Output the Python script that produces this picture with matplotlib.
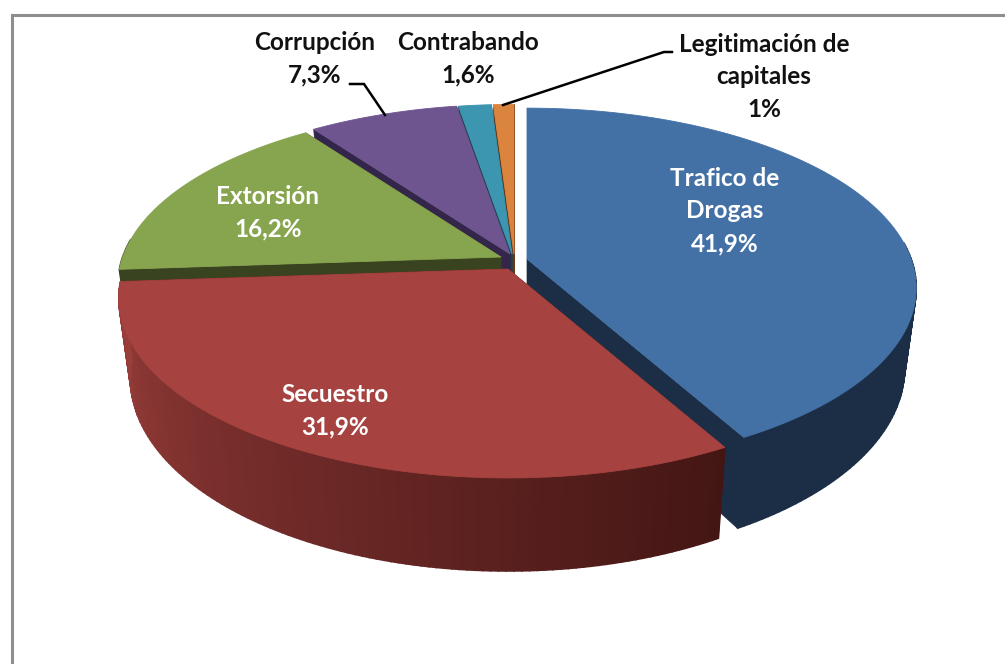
import numpy as np
import matplotlib
matplotlib.use("Agg")
import matplotlib.pyplot as plt
from matplotlib.colors import to_rgb

names = ["Trafico de\nDrogas", "Secuestro", "Extorsión", "Corrupción", "Contrabando", "Legitimación de\ncapitales"]
values = [41.9, 31.9, 16.2, 7.3, 1.6, 1.0]
value_labels = ["41,9%", "31,9%", "16,2%", "7,3%", "1,6%", "1%"]

top_colors = ["#4371a6", "#a64340", "#87a44e", "#6f5590", "#3c96b0", "#db843d"]
wall_start = ["#1b2e45", "#431614", "#3a431f", "#33264a", "#1b4450", "#65381a"]
wall_end = ["#1b2e45", "#9a3e3b", "#3a431f", "#33264a", "#1b4450", "#65381a"]

# apex of every slice (pixels), the pie is pulled apart by hand
apex_x = [527, 508, 501, 510, 512, 514]
apex_y = [259, 269, 257, 254, 254, 254]
radius = [0.99, 0.99, 0.975, 0.98, 0.98, 0.98]

RX, RY, K, H, TAPER = 388, 177, 0.163, 78, 0.03


def project(ang, r, z, ax0, ay0):
    # ang clockwise from 12 o'clock, r in 0..1, z 0 top 1 bottom
    u = r * np.sin(ang)
    v = r * np.cos(ang)
    s = 1 / (1 + K * v)
    return ax0 + RX * u * s * (1 - TAPER * z), ay0 - RY * v * s + H * z * s


fig = plt.figure(figsize=(10.05, 6.64), dpi=100)
ax = fig.add_axes([0, 0, 1, 1])
ax.set_xlim(0, 1005)
ax.set_ylim(664, 0)
ax.axis("off")

# chart frame
ax.plot([12, 12, 1005], [664, 14.5, 14.5], color="#8e8e8e", lw=2.2, solid_joinstyle="miter")

edges = np.cumsum([0] + values) / sum(values) * 2 * np.pi

# back slices first, red goes on top of everything
for i in [5, 4, 3, 2, 0, 1]:
    a0, a1 = edges[i], edges[i + 1]
    x0, y0 = apex_x[i], apex_y[i]
    r = radius[i]
    th = np.linspace(a0, a1, max(int(np.degrees(a1 - a0)), 6) + 1)

    # cut faces
    for a in (a0, a1):
        xa, ya = project(a, r, 0, x0, y0)
        xb, yb = project(a, r, 1, x0, y0)
        xc, yc = project(a, 0, 1, x0, y0)
        ax.fill([x0, xa, xb, xc], [y0, ya, yb, yc], color=wall_start[i], lw=0.5)

    # outer wall as small shaded strips, only the part facing the viewer
    c0, c1 = np.array(to_rgb(wall_start[i])), np.array(to_rgb(wall_end[i]))
    for j in range(len(th) - 1):
        if np.cos(th[j]) > 0.1:
            continue
        t = j / max(len(th) - 2, 1)
        col = c0 + (c1 - c0) * t
        xa, ya = project(th[j], r, 0, x0, y0)
        xb, yb = project(th[j + 1], r, 0, x0, y0)
        xc, yc = project(th[j + 1], r, 1, x0, y0)
        xd, yd = project(th[j], r, 1, x0, y0)
        ax.fill([xa, xb, xc, xd], [ya, yb, yc, yd], color=col, lw=1.2)

    # top face
    xs, ys = project(th, r, 0, x0, y0)
    ax.fill(np.r_[x0, xs], np.r_[y0, ys], color=top_colors[i], lw=0.6)

# leader lines
ax.plot([350, 364, 385], [84, 84, 115], color="black", lw=1.8, solid_joinstyle="miter")
ax.plot([503, 664, 672], [105, 52, 52], color="black", lw=1.8, solid_joinstyle="miter")

font = dict(family="Lato", fontweight="bold", fontsize=17.5, ha="center", va="center", linespacing=1.5)
inside_pos = [(725, 211), (335, 411), (268, 213)]
outside_pos = [(315, 59), (468, 59), (764, 77)]
for i, (px, py) in enumerate(inside_pos):
    ax.text(px, py, names[i] + "\n" + value_labels[i], color="white", **font)
for i, (px, py) in enumerate(outside_pos):
    ax.text(px, py, names[i + 3] + "\n" + value_labels[i + 3], color="#111111", **font)

fig.savefig("out.png", dpi=100)
